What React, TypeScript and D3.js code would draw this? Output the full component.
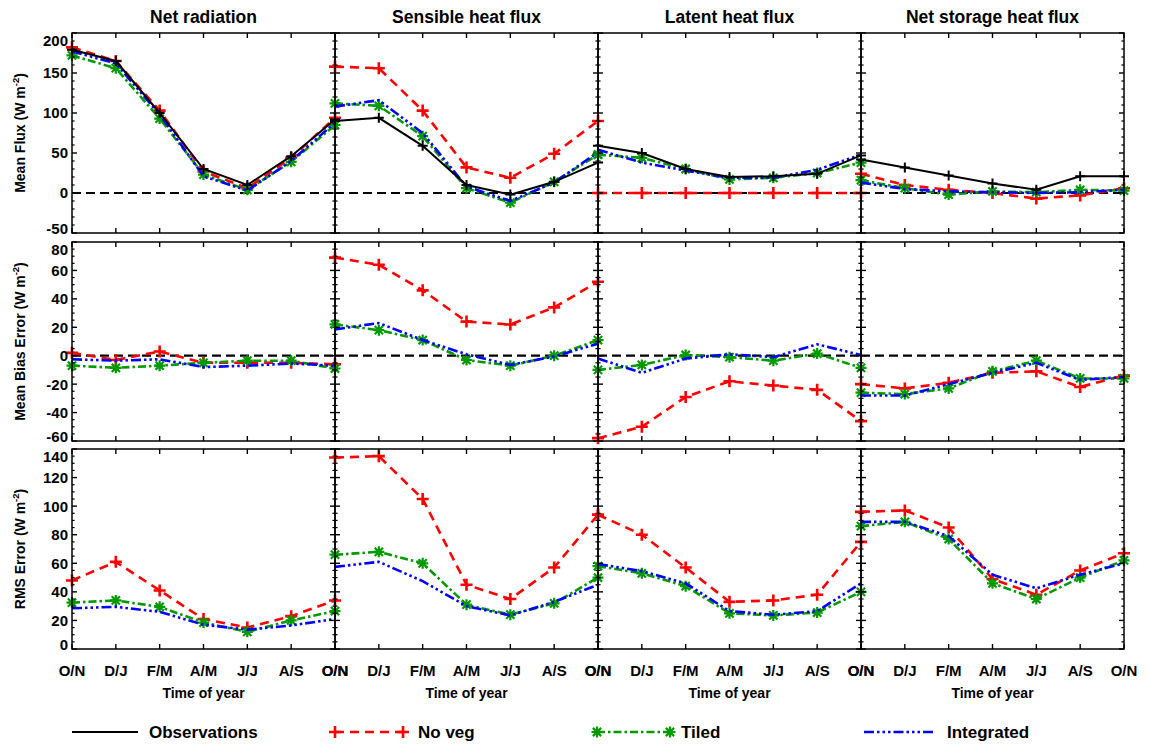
import React from 'react';
import * as d3 from 'd3';

// ---------- data ----------
const months = ['O/N', 'D/J', 'F/M', 'A/M', 'J/J', 'A/S', 'O/N'];
const panelTitles = ['Net radiation', 'Sensible heat flux', 'Latent heat flux', 'Net storage heat flux'];
const rowLabels = ['Mean Flux', 'Mean Bias Error', 'RMS Error'];
const seriesNames = ['Observations', 'No veg', 'Tiled', 'Integrated'];
const xAxisTitle = 'Time of year';

// Mean flux (row 1) — one array per panel
const obsMean = [
  [179, 165, 100, 30, 10, 46, 92],
  [90, 94, 59, 10, -2, 14, 38],
  [59, 50, 30, 20, 21, 24, 47],
  [42, 32, 22, 12, 4, 21, 21],
];
const noVegMean = [
  [182, 165, 103, 27, 6, 44, 94],
  [158, 156, 103, 32, 19, 49, 90],
  [0, 0, 0, 0, 0, 0, 0],
  [24, 10, 4, 0, -7, -3, 6],
];
const tiledMean = [
  [172, 156, 93, 23, 4, 39, 85],
  [112, 109, 71, 6, -12, 14, 48],
  [48, 44, 30, 17, 19, 25, 38],
  [16, 6, -2, 2, 1, 4, 3],
];
const integMean = [
  [177, 162, 98, 21, 3, 40, 88],
  [108, 116, 75, 8, -10, 13, 51],
  [54, 38, 28, 19, 19, 29, 48],
  [13, 5, 2, 1, 0, 1, 4],
];

// Mean bias error (row 2)
const noVegBias = [
  [2, -3, 3, -5, -5, -5, -6],
  [69, 64, 46, 24, 22, 34, 52],
  [-58, -50, -29, -18, -21, -24, -46],
  [-20, -23, -19, -12, -11, -22, -14],
];
const tiledBias = [
  [-7, -8.5, -7, -5, -3.5, -3.5, -9],
  [22, 18, 11, -3, -7, 0, 11],
  [-10, -6.5, 0.5, -1, -3.5, 1.5, -8.5],
  [-26, -27, -23, -11, -3.5, -16, -16],
];
const integBias = [
  [-2.5, -3.5, -2.5, -8, -7, -5.5, -7],
  [18.5, 23, 11, 1, -6.5, -0.5, 8.5],
  [-2, -12, -2, 1, -1, 8, 0.5],
  [-28, -28, -20, -12, -5, -17, -15],
];

// RMS error (row 3)
const noVegRms = [
  [48, 61, 41, 21, 15, 23, 34],
  [134, 135, 105, 45, 35, 57, 94],
  [94, 80, 57, 33, 34, 38, 75],
  [96, 97, 85, 49, 38, 55, 67],
];
const tiledRms = [
  [32.5, 34, 29.5, 18.5, 12, 20, 26.5],
  [66, 68, 60, 31, 24, 32, 50],
  [58, 53, 44, 25, 23.5, 25.5, 40],
  [86, 89, 77, 46, 35, 50, 62],
];
const integRms = [
  [28.5, 29.5, 26, 17, 13.5, 16.5, 21],
  [57.5, 61, 47.5, 30, 23.5, 33, 45],
  [59.5, 54.5, 46, 26.5, 24, 26.5, 46],
  [89, 89, 79, 52, 42.5, 52, 60],
];

const rowDomains: [number, number][] = [[-50, 200], [-60, 80], [0, 140]];
const rowMajor = [50, 20, 20];
const rowMinor = [10, 5, 5];

// ---------- layout ----------
const W = 1150;
const H = 746;
const panelX = [72, 335, 598, 861];
const panelW = 263;
const rowTop = [33, 242, 449];
const rowBot = [233, 441, 649];
const FONT = "'Liberation Sans', Arial, Helvetica, sans-serif";

type Style = { color: string; width: number; dash?: string; marker?: 'plus' | 'bigplus' | 'star' };
const styles: Style[] = [
  { color: '#000000', width: 2, marker: 'plus' },
  { color: '#ff0000', width: 2.6, dash: '9,6', marker: 'bigplus' },
  { color: '#009900', width: 2.6, dash: '8,3,2.5,3', marker: 'star' },
  { color: '#0000ff', width: 2.6, dash: '10,3,2.5,3,2.5,3,2.5,3' },
];

function Marker({ kind, x, y, color }: { kind?: string; x: number; y: number; color: string }) {
  if (!kind) return null;
  if (kind === 'plus') {
    const s = 5;
    return <path d={`M${x - s},${y}H${x + s}M${x},${y - s}V${y + s}`} stroke={color} strokeWidth={2} fill="none" />;
  }
  if (kind === 'bigplus') {
    const s = 6;
    return <path d={`M${x - s},${y}H${x + s}M${x},${y - s}V${y + s}`} stroke={color} strokeWidth={2.6} fill="none" />;
  }
  const s = 5.5;
  const d = s * 0.75;
  return (
    <path
      d={`M${x - s},${y}H${x + s}M${x},${y - s}V${y + s}M${x - d},${y - d}L${x + d},${y + d}M${x - d},${y + d}L${x + d},${y - d}`}
      stroke={color}
      strokeWidth={2.2}
      fill="none"
    />
  );
}

function Panel({ r, p }: { r: number; p: number }) {
  const x0 = panelX[p];
  const x1 = x0 + panelW;
  const top = rowTop[r];
  const bot = rowBot[r];
  const dom = rowDomains[r];
  const x = d3.scalePoint<number>().domain(d3.range(months.length)).range([x0, x1]);
  const y = d3.scaleLinear().domain(dom).range([bot, top]);
  const majors = d3.range(dom[0], dom[1] + 0.001, rowMajor[r]);
  const minors = d3.range(dom[0], dom[1] + 0.001, rowMinor[r]).filter((v) => !majors.some((m) => Math.abs(m - v) < 1e-6));

  let series: { data: number[]; style: Style }[];
  if (r === 0) {
    series = [
      { data: noVegMean[p], style: styles[1] },
      { data: tiledMean[p], style: styles[2] },
      { data: integMean[p], style: styles[3] },
      { data: obsMean[p], style: styles[0] },
    ];
  } else if (r === 1) {
    series = [
      { data: noVegBias[p], style: styles[1] },
      { data: tiledBias[p], style: styles[2] },
      { data: integBias[p], style: styles[3] },
    ];
  } else {
    series = [
      { data: noVegRms[p], style: styles[1] },
      { data: tiledRms[p], style: styles[2] },
      { data: integRms[p], style: styles[3] },
    ];
  }
  const line = d3
    .line<number>()
    .x((_, i) => x(i) as number)
    .y((d) => y(d));

  const majLen = 5;
  const minLen = 2.6;
  return (
    <g>
      {/* zero line */}
      {dom[0] < 0 && (
        <line x1={x0} x2={x1} y1={y(0)} y2={y(0)} stroke="#000" strokeWidth={2.2} strokeDasharray="9,5" />
      )}
      {series.map((s, k) => (
        <g key={k}>
          <path d={line(s.data) || ''} fill="none" stroke={s.style.color} strokeWidth={s.style.width} strokeDasharray={s.style.dash} />
          {s.data.map((v, i) => (
            <Marker key={i} kind={s.style.marker} x={x(i) as number} y={y(v)} color={s.style.color} />
          ))}
        </g>
      ))}
      {/* frame */}
      <rect x={x0} y={top} width={panelW} height={bot - top} fill="none" stroke="#000" strokeWidth={1.5} />
      {/* x ticks */}
      {months.map((_, i) => (
        <g key={'xt' + i}>
          <line x1={x(i)} x2={x(i)} y1={top} y2={top + majLen} stroke="#000" strokeWidth={1.4} />
          <line x1={x(i)} x2={x(i)} y1={bot} y2={bot - majLen} stroke="#000" strokeWidth={1.4} />
        </g>
      ))}
      {/* y ticks */}
      {majors.map((v) => (
        <g key={'ym' + v}>
          <line x1={x0} x2={x0 + majLen} y1={y(v)} y2={y(v)} stroke="#000" strokeWidth={1.4} />
          <line x1={x1} x2={x1 - majLen} y1={y(v)} y2={y(v)} stroke="#000" strokeWidth={1.4} />
        </g>
      ))}
      {minors.map((v) => (
        <g key={'yn' + v}>
          <line x1={x0} x2={x0 + minLen} y1={y(v)} y2={y(v)} stroke="#000" strokeWidth={1.2} />
          <line x1={x1} x2={x1 - minLen} y1={y(v)} y2={y(v)} stroke="#000" strokeWidth={1.2} />
        </g>
      ))}
      {/* y tick labels */}
      {p === 0 &&
        majors.map((v) => {
          let yy = y(v);
          if (v === dom[1]) yy += 7.5;
          if (v === dom[0]) yy -= 4.5;
          return (
            <text key={'yl' + v} x={x0 - 4} y={yy} dy="0.36em" textAnchor="end" fontSize={15} fontWeight="bold" fontFamily={FONT}>
              {v}
            </text>
          );
        })}
      {/* y axis title */}
      {p === 0 && (
        <text
          transform={`translate(${25},${(top + bot) / 2}) rotate(-90)`}
          textAnchor="middle"
          fontSize={14}
          fontWeight="bold"
          fontFamily={FONT}
        >
          {rowLabels[r] + ' (W m'}
          <tspan dy={-6} fontSize={9.5}>-2</tspan>
          <tspan dy={6}>)</tspan>
        </text>
      )}
      {/* titles */}
      {r === 0 && (
        <text x={(x0 + x1) / 2} y={23} textAnchor="middle" fontSize={17.5} fontWeight="bold" fontFamily={FONT}>
          {panelTitles[p]}
        </text>
      )}
      {/* x tick labels */}
      {r === 2 &&
        months.map((m, i) => (
          <text key={'xl' + i} x={x(i)} y={676} textAnchor="middle" fontSize={15} fontWeight="bold" fontFamily={FONT}>
            {m}
          </text>
        ))}
      {r === 2 && (
        <text x={(x0 + x1) / 2} y={698} textAnchor="middle" fontSize={14} fontWeight="bold" fontFamily={FONT}>
          {xAxisTitle}
        </text>
      )}
    </g>
  );
}

const legendLineX = [72, 335, 597, 864];
const legendLineLen = [66, 68, 73, 70];
const legendTextX = [149, 418, 681, 947];

export default function App() {
  const ly = 732;
  return (
    <svg width={W} height={H} style={{ position: 'absolute', left: 0, top: 0, background: '#fff' }}>
      <rect x={0} y={0} width={W} height={H} fill="#fff" />
      {[0, 1, 2].map((r) => [0, 1, 2, 3].map((p) => <Panel key={r + '-' + p} r={r} p={p} />))}
      {seriesNames.map((name, k) => {
        const st = styles[k];
        const a = legendLineX[k];
        const b = a + legendLineLen[k];
        return (
          <g key={name}>
            <line x1={a} x2={b} y1={ly} y2={ly} stroke={st.color} strokeWidth={st.width} strokeDasharray={st.dash} />
            {st.marker && st.marker !== 'plus' && (
              <>
                <Marker kind={st.marker} x={a} y={ly} color={st.color} />
                <Marker kind={st.marker} x={b} y={ly} color={st.color} />
              </>
            )}
            <text x={legendTextX[k]} y={ly} dy="0.36em" fontSize={17} fontFamily={FONT} fontWeight="bold">
              {name}
            </text>
          </g>
        );
      })}
    </svg>
  );
}
